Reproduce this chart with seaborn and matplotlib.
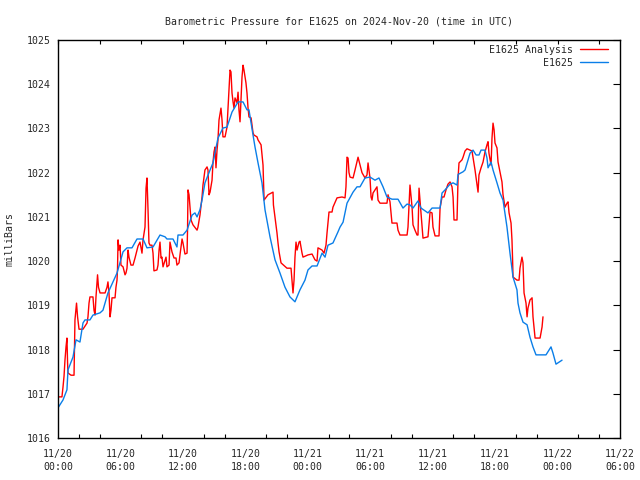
import matplotlib
matplotlib.use("Agg")
import matplotlib.pyplot as plt
import seaborn as sns
import pandas as pd
from matplotlib.ticker import MultipleLocator

# ---- data (hours since 2024-11-20 00:00 UTC, pressure in mbar) ----
analysis_hours = [
    0.10, 0.38, 0.48, 0.58, 0.67, 0.77, 0.86, 0.92, 0.96, 1.25, 1.54, 1.63, 1.78, 1.88, 2.02, 2.40,
    2.79, 2.88, 2.98, 3.07, 3.36, 3.46, 3.56, 3.65, 3.75, 3.80, 3.89, 4.04, 4.52, 4.71, 4.80, 4.90,
    5.00, 5.09, 5.19, 5.48, 5.57, 5.67, 5.72, 5.77, 5.86, 5.96, 6.05, 6.25, 6.44, 6.53, 6.63, 6.73,
    6.82, 7.01, 7.21, 7.40, 7.59, 7.69, 7.88, 8.07, 8.17, 8.36, 8.46, 8.55, 8.65, 8.74, 8.84, 9.03,
    9.13, 9.18, 9.22, 9.51, 9.61, 9.71, 9.80, 9.90, 9.99, 10.09, 10.38, 10.47, 10.67, 10.76, 10.95,
    11.15, 11.34, 11.43, 11.63, 11.72, 11.92, 12.01, 12.20, 12.40, 12.45, 12.49, 12.59, 12.78, 12.97,
    13.36, 13.45, 13.64, 13.84, 13.93, 14.12, 14.32, 14.41, 14.51, 14.61, 14.80, 14.89, 14.99, 15.09,
    15.18, 15.28, 15.37, 15.47, 15.66, 15.76, 15.85, 16.05, 16.24, 16.34, 16.53, 16.62, 16.72, 16.82,
    16.91, 17.01, 17.20, 17.30, 17.39, 17.49, 17.58, 17.68, 17.78, 17.87, 18.06, 18.16, 18.26, 18.35,
    18.55, 18.64, 18.74, 18.83, 19.12, 19.22, 19.51, 19.70, 19.80, 20.18, 20.66, 20.70, 20.85, 21.04,
    21.14, 21.24, 21.43, 22.00, 22.39, 22.48, 22.58, 22.68, 22.77, 22.87, 22.97, 23.16, 23.25, 23.45,
    23.54, 24.02, 24.41, 24.69, 24.89, 24.98, 25.37, 25.56, 25.75, 25.85, 26.04, 26.33, 26.42, 26.81,
    27.29, 27.58, 27.67, 27.77, 27.87, 27.96, 28.06, 28.35, 28.54, 28.83, 29.02, 29.21, 29.50, 29.69,
    29.79, 29.98, 30.08, 30.17, 30.27, 30.65, 30.75, 30.94, 31.61, 31.71, 31.90, 32.09, 32.57, 32.67,
    32.86, 33.54, 33.63, 33.82, 34.02, 34.11, 34.30, 34.50, 34.59, 34.69, 34.88, 34.98, 35.07, 35.55,
    35.75, 35.94, 36.03, 36.23, 36.61, 36.71, 36.90, 37.09, 37.28, 37.47, 37.67, 37.86, 37.96, 38.05,
    38.34, 38.44, 38.53, 38.82, 38.92, 39.11, 39.30, 39.78, 40.07, 40.26, 40.36, 40.45, 40.65, 40.84,
    41.03, 41.22, 41.32, 41.41, 41.61, 41.70, 41.80, 41.90, 41.99, 42.18, 42.28, 42.47, 42.66, 42.76,
    42.95, 43.14, 43.24, 43.34, 43.53, 43.62, 43.68, 43.72, 44.10, 44.30, 44.39, 44.58, 44.68, 44.78,
    44.97, 45.07, 45.16, 45.35, 45.55, 45.64, 45.84, 46.32, 46.51, 46.60,
]
analysis_mbar = [
    1016.93, 1016.93, 1017.15, 1017.40, 1017.76, 1018.06, 1018.26, 1017.70, 1017.47, 1017.42, 1017.42,
    1018.67, 1019.05, 1018.74, 1018.46, 1018.46, 1018.60, 1018.74, 1019.05, 1019.19, 1019.19, 1018.89,
    1018.78, 1019.19, 1019.51, 1019.69, 1019.41, 1019.28, 1019.28, 1019.41, 1019.53, 1019.28, 1018.74,
    1018.89, 1019.17, 1019.17, 1019.41, 1019.57, 1019.84, 1020.48, 1020.25, 1020.36, 1019.91, 1019.87,
    1019.69, 1019.73, 1019.84, 1020.25, 1020.09, 1019.91, 1019.91, 1020.07, 1020.25, 1020.34, 1020.43,
    1020.18, 1020.48, 1020.77, 1021.65, 1021.88, 1021.16, 1020.41, 1020.36, 1020.36, 1020.18, 1019.96,
    1019.78, 1019.80, 1019.91, 1020.25, 1020.43, 1020.07, 1020.09, 1019.87, 1020.09, 1019.87, 1019.91,
    1020.43, 1020.21, 1020.07, 1020.07, 1019.91, 1019.96, 1020.14, 1020.50, 1020.41, 1020.16, 1020.18,
    1020.75, 1021.61, 1021.50, 1020.93, 1020.82, 1020.70, 1020.77, 1021.04, 1021.45, 1021.72, 1022.06,
    1022.13, 1022.06, 1021.50, 1021.56, 1021.83, 1022.22, 1022.47, 1022.58, 1022.11, 1022.51, 1022.74,
    1023.19, 1023.46, 1023.19, 1022.81, 1022.81, 1023.03, 1023.49, 1024.32, 1024.28, 1023.80, 1023.60,
    1023.46, 1023.69, 1023.58, 1023.82, 1023.42, 1023.15, 1023.64, 1024.16, 1024.43, 1024.32, 1024.03,
    1023.80, 1023.46, 1023.26, 1023.24, 1023.08, 1022.90, 1022.85, 1022.81, 1022.74, 1022.63, 1022.17,
    1021.38, 1021.50, 1021.56, 1021.27, 1021.00, 1020.64, 1020.41, 1020.21, 1019.96, 1019.84, 1019.84,
    1019.57, 1019.28, 1019.57, 1020.09, 1020.43, 1020.25, 1020.43, 1020.45, 1020.18, 1020.09, 1020.14,
    1020.16, 1020.03, 1020.00, 1020.30, 1020.25, 1020.18, 1020.36, 1020.64, 1021.11, 1021.11, 1021.22,
    1021.43, 1021.45, 1021.43, 1021.68, 1022.35, 1022.33, 1022.00, 1021.90, 1021.88, 1022.06, 1022.35,
    1022.17, 1022.00, 1021.88, 1021.95, 1022.22, 1021.88, 1021.45, 1021.38, 1021.54, 1021.68, 1021.38,
    1021.31, 1021.31, 1021.50, 1021.34, 1020.86, 1020.86, 1020.70, 1020.59, 1020.59, 1020.77, 1021.72,
    1021.22, 1020.82, 1020.70, 1020.59, 1020.59, 1021.65, 1021.09, 1020.77, 1020.52, 1020.55, 1021.11,
    1021.09, 1020.77, 1020.57, 1020.57, 1021.20, 1021.45, 1021.45, 1021.61, 1021.74, 1021.79, 1021.68,
    1021.45, 1020.93, 1020.93, 1021.88, 1022.22, 1022.29, 1022.35, 1022.49, 1022.54, 1022.49, 1022.06,
    1021.72, 1021.56, 1021.95, 1022.11, 1022.24, 1022.47, 1022.63, 1022.70, 1022.44, 1022.17, 1022.78,
    1023.12, 1022.97, 1022.67, 1022.56, 1022.24, 1022.02, 1021.79, 1021.50, 1021.22, 1021.31, 1021.34,
    1021.09, 1020.86, 1020.48, 1020.03, 1019.64, 1019.57, 1019.57, 1019.84, 1020.09, 1019.96, 1019.28,
    1019.05, 1018.74, 1018.94, 1019.12, 1019.17, 1018.74, 1018.26, 1018.26, 1018.51, 1018.74,
]

station_hours = [
    0.05, 0.48, 0.86, 0.96, 1.44, 1.73, 2.11, 2.40, 2.59, 3.07, 3.36, 4.04, 4.32, 4.80, 5.67, 6.25,
    6.63, 7.11, 7.59, 8.17, 8.55, 9.13, 9.80, 10.28, 10.47, 11.05, 11.43, 11.53, 12.01, 12.40, 12.88,
    13.16, 13.36, 13.64, 13.84, 14.12, 14.61, 14.89, 15.37, 15.85, 16.24, 16.72, 17.30, 17.78, 18.16,
    18.35, 18.74, 18.93, 19.22, 19.60, 19.89, 20.37, 20.85, 21.33, 21.81, 22.29, 22.77, 23.25, 23.73,
    24.02, 24.41, 24.89, 25.37, 25.66, 25.94, 26.42, 26.90, 27.10, 27.39, 27.77, 28.35, 28.73, 29.02,
    29.50, 29.98, 30.46, 30.84, 31.23, 31.61, 32.09, 32.67, 33.15, 33.54, 33.82, 34.11, 34.59, 34.88,
    35.55, 35.94, 36.71, 36.90, 37.19, 37.67, 37.96, 38.34, 38.44, 38.92, 39.11, 39.59, 39.88, 40.17,
    40.45, 40.65, 41.03, 41.22, 41.32, 41.61, 41.80, 42.18, 42.47, 42.76, 43.14, 43.43, 43.72, 44.10,
    44.20, 44.39, 44.68, 45.07, 45.35, 45.64, 45.93, 46.89, 47.37, 47.56, 47.85, 48.43,
]
station_mbar = [
    1016.70, 1016.86, 1017.09, 1017.54, 1017.83, 1018.22, 1018.17, 1018.60, 1018.67, 1018.67, 1018.78,
    1018.83, 1018.89, 1019.28, 1019.73, 1020.21, 1020.30, 1020.30, 1020.50, 1020.50, 1020.30, 1020.32,
    1020.59, 1020.55, 1020.50, 1020.50, 1020.32, 1020.59, 1020.59, 1020.70, 1021.04, 1021.09, 1021.00,
    1021.16, 1021.38, 1021.77, 1022.06, 1022.22, 1022.78, 1023.01, 1023.03, 1023.37, 1023.60, 1023.60,
    1023.42, 1023.42, 1022.85, 1022.58, 1022.22, 1021.77, 1021.16, 1020.55, 1020.03, 1019.73, 1019.41,
    1019.19, 1019.08, 1019.35, 1019.57, 1019.80, 1019.89, 1019.89, 1020.18, 1020.09, 1020.36, 1020.41,
    1020.66, 1020.77, 1020.88, 1021.31, 1021.56, 1021.68, 1021.68, 1021.88, 1021.90, 1021.83, 1021.88,
    1021.68, 1021.45, 1021.40, 1021.40, 1021.20, 1021.29, 1021.27, 1021.20, 1021.36, 1021.20, 1021.09,
    1021.20, 1021.20, 1021.54, 1021.61, 1021.74, 1021.77, 1021.72, 1021.96, 1022.02, 1022.06, 1022.44,
    1022.51, 1022.40, 1022.40, 1022.51, 1022.51, 1022.33, 1022.11, 1022.24, 1022.06, 1021.77, 1021.54,
    1021.38, 1020.77, 1020.18, 1019.64, 1019.35, 1019.05, 1018.83, 1018.62, 1018.56, 1018.28, 1018.06,
    1017.88, 1017.88, 1018.06, 1017.92, 1017.67, 1017.76,
]

series_names = ["E1625 Analysis", "E1625"]
series_colors = ["#ff0000", "#0a7ee8"]
x_tick_hours = [0, 6, 12, 18, 24, 30, 36, 42, 48, 54]
x_tick_labels = ["11/20\n00:00", "11/20\n06:00", "11/20\n12:00", "11/20\n18:00",
                 "11/21\n00:00", "11/21\n06:00", "11/21\n12:00", "11/21\n18:00",
                 "11/22\n00:00", "11/22\n06:00"]
y_ticks = [1016, 1017, 1018, 1019, 1020, 1021, 1022, 1023, 1024, 1025]
title = "Barometric Pressure for E1625 on 2024-Nov-20 (time in UTC)"
y_label = "milliBars"

df = pd.concat([
    pd.DataFrame({"hours": analysis_hours, "mbar": analysis_mbar, "series": series_names[0]}),
    pd.DataFrame({"hours": station_hours, "mbar": station_mbar, "series": series_names[1]}),
], ignore_index=True)

sns.set_theme(style="white")
plt.rcParams["font.family"] = ["DejaVu Sans Mono"]
FS = 7.1

fig = plt.figure(figsize=(6.4, 4.8), dpi=100)
ax = fig.add_axes([58 / 640, 42 / 480, 562 / 640, 398 / 480])

sns.lineplot(data=df, x="hours", y="mbar", hue="series", hue_order=series_names,
             palette=dict(zip(series_names, series_colors)), sort=False,
             estimator=None, linewidth=1.0, ax=ax)

ax.set_xlim(0, 54)
ax.set_ylim(1016, 1025)
ax.set_xticks(x_tick_hours)
ax.set_xticklabels(x_tick_labels, fontsize=FS, linespacing=1.35)
ax.xaxis.set_minor_locator(MultipleLocator(2))
ax.set_yticks(y_ticks)
ax.set_yticklabels([str(v) for v in y_ticks], fontsize=FS)
ax.tick_params(axis="both", which="major", direction="in", length=5, width=0.8,
               color="black", top=False, right=True)
ax.tick_params(axis="x", which="major", pad=8)
ax.tick_params(axis="y", which="major", pad=5)
ax.tick_params(axis="x", which="minor", direction="in", length=3, width=0.8,
               color="black", top=False, bottom=True)
# top axis ticks (every 4 hours)
sec = ax.secondary_xaxis("top")
sec.set_xticks(list(range(0, 55, 4)))
sec.set_xticklabels([])
sec.tick_params(direction="in", length=3, width=0.8, color="black")
sec.spines["top"].set_visible(False)

for s in ax.spines.values():
    s.set_color("black")
    s.set_linewidth(1.0)

ax.set_xlabel("")
ax.set_ylabel(y_label, fontsize=FS, labelpad=9)
ax.set_title(title, fontsize=FS, pad=11)

leg = ax.legend(loc="upper right", bbox_to_anchor=(1 - 5 / 562, 1 + 2 / 398),
                frameon=False, fontsize=FS, markerfirst=False,
                handlelength=2.9, handletextpad=0.7, borderaxespad=0.4,
                borderpad=0.3, labelspacing=0.3, alignment="right")
for t in leg.get_texts():
    t.set_ha("right")

fig.savefig("out.png", dpi=100)
